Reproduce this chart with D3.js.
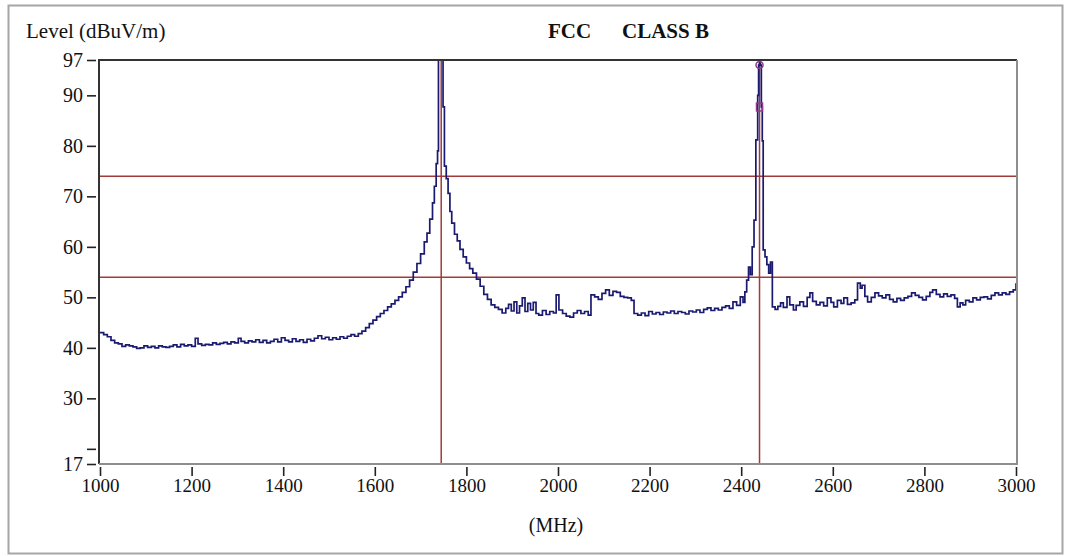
<!DOCTYPE html>
<html>
<head>
<meta charset="utf-8">
<script src="https://cdn.jsdelivr.net/npm/d3@7"></script>
<style>
  body { margin: 0; background: #ffffff; }
  svg { display: block; font-family: "Liberation Serif", "Times New Roman", serif; }
</style>
</head>
<body>
<div id="chart-div"></div>
<script>
// trace: [MHz, dBuV/m]
const trace = [
  [1000, 43.0], [1008, 42.6], [1016, 42.2], [1024, 41.5], [1032, 41.0], [1040, 40.8], [1048, 40.3],
  [1056, 40.6], [1064, 40.4], [1072, 40.2], [1080, 39.9], [1088, 40.0], [1096, 40.4], [1104, 40.1],
  [1112, 40.3], [1120, 40.0], [1128, 40.4], [1136, 40.2], [1144, 40.1], [1152, 40.3], [1160, 40.6],
  [1168, 40.2], [1176, 40.7], [1184, 40.4], [1192, 40.6], [1200, 40.3], [1208, 41.9], [1214, 40.8],
  [1222, 40.5], [1230, 40.7], [1238, 40.6], [1246, 41.0], [1254, 40.7], [1262, 40.9], [1270, 41.1],
  [1278, 40.8], [1286, 41.2], [1294, 41.0], [1302, 41.9], [1308, 41.3], [1316, 41.0], [1324, 41.4],
  [1332, 41.2], [1340, 41.6], [1348, 41.1], [1356, 41.5], [1364, 41.0], [1372, 41.3], [1380, 41.7],
  [1388, 41.2], [1396, 42.0], [1404, 41.5], [1412, 41.2], [1420, 41.8], [1428, 41.3], [1436, 41.6],
  [1444, 41.1], [1452, 41.7], [1460, 41.4], [1468, 41.9], [1476, 42.4], [1484, 41.8], [1492, 42.1],
  [1500, 41.6], [1508, 42.0], [1516, 41.7], [1524, 42.2], [1532, 41.9], [1540, 42.3], [1548, 42.6],
  [1556, 42.3], [1564, 42.8], [1572, 43.3], [1580, 44.0], [1588, 44.8], [1596, 45.5], [1604, 46.2],
  [1612, 46.8], [1620, 47.4], [1628, 48.1], [1636, 48.7], [1644, 49.4], [1652, 50.1], [1660, 51.0],
  [1668, 52.1], [1676, 53.4], [1684, 55.0], [1692, 56.7], [1700, 58.6], [1708, 61.0], [1714, 62.7],
  [1720, 65.5], [1726, 68.7], [1730, 72.0], [1734, 76.5], [1737, 79.0], [1739, 97.0], [1741, 97.0],
  [1743, 97.0], [1745, 97.0], [1747, 97.0], [1749, 87.7], [1752, 76.0], [1756, 73.5], [1760, 70.6],
  [1764, 67.0], [1768, 64.7], [1774, 62.5], [1780, 61.2], [1786, 59.5], [1793, 58.0], [1800, 56.8],
  [1807, 55.7], [1814, 54.8], [1822, 53.6], [1830, 52.2], [1838, 50.6], [1846, 49.6], [1854, 48.5],
  [1862, 48.0], [1870, 47.6], [1878, 46.9], [1886, 47.8], [1892, 48.6], [1898, 47.3], [1904, 49.1],
  [1910, 46.9], [1916, 48.3], [1922, 49.9], [1928, 47.2], [1934, 48.8], [1940, 47.5], [1946, 49.0],
  [1952, 46.8], [1958, 46.5], [1966, 47.4], [1974, 46.6], [1982, 47.2], [1990, 46.9], [1996, 50.5],
  [2002, 47.5], [2010, 46.8], [2018, 46.3], [2026, 46.1], [2034, 46.9], [2042, 47.4], [2050, 46.8],
  [2058, 47.2], [2066, 46.5], [2072, 50.5], [2080, 50.1], [2088, 49.6], [2096, 50.8], [2104, 51.5],
  [2112, 50.4], [2120, 51.2], [2128, 51.0], [2136, 50.2], [2144, 50.0], [2152, 49.9], [2160, 49.4],
  [2166, 46.8], [2174, 46.5], [2182, 46.9], [2190, 46.4], [2198, 47.2], [2206, 46.7], [2214, 47.0],
  [2222, 46.6], [2230, 47.1], [2238, 46.9], [2246, 47.3], [2254, 46.8], [2262, 47.2], [2270, 47.0],
  [2278, 46.7], [2286, 47.3], [2294, 47.1], [2302, 47.5], [2310, 47.0], [2318, 47.6], [2326, 47.9],
  [2334, 47.4], [2342, 47.8], [2350, 47.5], [2358, 48.0], [2366, 48.3], [2374, 47.8], [2382, 49.1],
  [2390, 48.4], [2398, 50.1], [2404, 49.0], [2408, 51.1], [2412, 53.4], [2416, 56.0], [2420, 54.5],
  [2424, 60.0], [2428, 65.3], [2432, 81.2], [2436, 90.0], [2438, 96.0], [2440, 96.5], [2442, 96.0],
  [2444, 87.7], [2446, 81.0], [2448, 59.4], [2452, 58.0], [2456, 56.5], [2460, 54.8], [2464, 57.0],
  [2468, 48.1], [2474, 47.6], [2480, 48.2], [2486, 48.9], [2492, 48.0], [2500, 50.1], [2506, 48.5],
  [2514, 47.5], [2520, 48.4], [2528, 49.1], [2536, 48.2], [2544, 50.0], [2550, 50.9], [2556, 49.2],
  [2564, 48.5], [2572, 49.0], [2580, 48.3], [2588, 49.9], [2596, 49.0], [2602, 48.1], [2610, 49.4],
  [2618, 48.8], [2624, 49.9], [2632, 48.6], [2640, 48.9], [2648, 49.5], [2654, 52.8], [2660, 51.8],
  [2664, 52.4], [2670, 50.2], [2676, 49.1], [2684, 50.0], [2692, 50.9], [2700, 50.3], [2708, 49.9],
  [2716, 50.5], [2724, 49.6], [2732, 49.1], [2740, 49.8], [2748, 49.4], [2756, 49.9], [2764, 50.2],
  [2772, 50.9], [2780, 50.4], [2788, 50.0], [2796, 49.5], [2804, 50.2], [2812, 51.0], [2818, 51.5],
  [2826, 50.6], [2834, 50.1], [2842, 50.7], [2850, 50.2], [2858, 50.5], [2866, 49.8], [2872, 48.1],
  [2878, 48.9], [2884, 48.5], [2890, 49.4], [2898, 49.1], [2906, 49.9], [2914, 49.5], [2922, 50.0],
  [2930, 50.1], [2938, 49.7], [2946, 50.4], [2954, 50.9], [2962, 50.5], [2970, 50.9], [2978, 50.6],
  [2986, 51.1], [2994, 51.5], [3000, 52.8]
];

const limitLevels = [74, 54];          // FCC class B peak / average
const markerFreqs = [1745, 2440];      // vertical cursors
const peakMarks = [[2440, 96.0, "circle"], [2440, 87.7, "square"]];
const xTicks = [1000, 1200, 1400, 1600, 1800, 2000, 2200, 2400, 2600, 2800, 3000];
const yTicks = [17, 20, 30, 40, 50, 60, 70, 80, 90, 97];
const yLabels = ["17", "", "30", "40", "50", "60", "70", "80", "90", "97"];

const W = 1065, H = 556;
const plot = { left: 99, right: 1017, top: 60, bottom: 464 };
const traceColor = "#1a1a70";
const limitColor = "#a33a3a";
const markColor = "#8c3c8c";

var x, y;

drawChart();

function drawChart() {
  var svg = d3
    .select("#chart-div")
    .append("svg")
    .attr("width", W)
    .attr("height", H);

  svg.append("rect").attr("width", W).attr("height", H).attr("fill", "#ffffff");

  // outer panel
  svg
    .append("rect")
    .attr("x", 8.5)
    .attr("y", 5.5)
    .attr("width", 1054)
    .attr("height", 548)
    .attr("fill", "none")
    .attr("stroke", "#a6a6a6")
    .attr("stroke-width", 2);

  x = d3.scaleLinear().domain([1000, 3000]).range([100, 1016]);
  y = d3.scaleLinear().domain([17, 97]).range([plot.bottom, plot.top]);

  svg
    .append("clipPath")
    .attr("id", "plot-clip")
    .append("rect")
    .attr("x", plot.left)
    .attr("y", plot.top)
    .attr("width", plot.right - plot.left)
    .attr("height", plot.bottom - plot.top);

  // limit lines
  svg
    .append("g")
    .selectAll("line")
    .data(limitLevels)
    .enter()
    .append("line")
    .attr("x1", plot.left)
    .attr("x2", plot.right)
    .attr("y1", (d) => y(d))
    .attr("y2", (d) => y(d))
    .attr("stroke", limitColor)
    .attr("stroke-width", 1.5);

  // cursor lines
  svg
    .append("g")
    .selectAll("line")
    .data(markerFreqs)
    .enter()
    .append("line")
    .attr("x1", (d) => x(d))
    .attr("x2", (d) => x(d))
    .attr("y1", plot.top)
    .attr("y2", plot.bottom)
    .attr("stroke", limitColor)
    .attr("stroke-width", 1.5);

  var line = d3
    .line()
    .x((d) => x(d[0]))
    .y((d) => y(d[1]))
    .curve(d3.curveStepAfter);

  svg
    .append("path")
    .datum(trace)
    .attr("clip-path", "url(#plot-clip)")
    .attr("d", line)
    .attr("fill", "none")
    .attr("stroke", traceColor)
    .attr("stroke-width", 1.7);

  // peak / QP markers
  var marks = svg.append("g");
  peakMarks.forEach(function (m) {
    if (m[2] == "circle") {
      marks
        .append("circle")
        .attr("cx", x(m[0]))
        .attr("cy", y(m[1]))
        .attr("r", 3.5)
        .attr("fill", "none")
        .attr("stroke", markColor)
        .attr("stroke-width", 1.5);
    } else {
      marks
        .append("rect")
        .attr("x", x(m[0]) - 3)
        .attr("y", y(m[1]) - 4)
        .attr("width", 6)
        .attr("height", 8)
        .attr("fill", "none")
        .attr("stroke", markColor)
        .attr("stroke-width", 1.5);
    }
  });

  // plot frame: dark top/left, grey bottom/right
  var frame = svg.append("g").attr("fill", "none").attr("stroke-width", 2);
  frame
    .append("path")
    .attr("d", `M${plot.left},${plot.bottom}V${plot.top}H${plot.right}`)
    .attr("stroke", "#333333");
  frame
    .append("path")
    .attr("d", `M${plot.right},${plot.top}V${plot.bottom}H${plot.left}`)
    .attr("stroke", "#8e8e8e");

  // y axis
  var yAxis = d3
    .axisLeft(y)
    .tickValues(yTicks)
    .tickSize(9)
    .tickPadding(4)
    .tickFormat((d, i) => yLabels[i]);
  var gy = svg
    .append("g")
    .attr("transform", `translate(${plot.left - 3},0)`)
    .call(yAxis);
  gy.select(".domain").remove();
  gy.selectAll(".tick line").attr("stroke", "#222").attr("stroke-width", 1.6);
  gy.selectAll("text")
    .attr("font-family", "Liberation Serif")
    .attr("font-size", 20)
    .attr("fill", "#111");

  // x axis
  var xAxis = d3
    .axisBottom(x)
    .tickValues(xTicks)
    .tickSize(9)
    .tickPadding(3)
    .tickFormat(d3.format("d"));
  var gx = svg
    .append("g")
    .attr("transform", `translate(0,${plot.bottom + 3})`)
    .call(xAxis);
  gx.select(".domain").remove();
  gx.selectAll(".tick line").attr("stroke", "#222").attr("stroke-width", 1.6);
  gx.selectAll("text")
    .attr("font-family", "Liberation Serif")
    .attr("font-size", 19)
    .attr("fill", "#111");

  svg
    .append("text")
    .attr("x", 26)
    .attr("y", 38)
    .attr("font-size", 21)
    .attr("fill", "#111")
    .text("Level (dBuV/m)");

  svg
    .append("text")
    .attr("x", 548)
    .attr("y", 38)
    .attr("font-size", 21)
    .attr("font-weight", "bold")
    .attr("fill", "#111")
    .text("FCC");
  svg
    .append("text")
    .attr("x", 622)
    .attr("y", 38)
    .attr("font-size", 21)
    .attr("font-weight", "bold")
    .attr("fill", "#111")
    .text("CLASS B");

  svg
    .append("text")
    .attr("x", 556)
    .attr("y", 532)
    .attr("text-anchor", "middle")
    .attr("font-size", 20)
    .attr("fill", "#111")
    .text("(MHz)");
}
</script>
</body>
</html>
